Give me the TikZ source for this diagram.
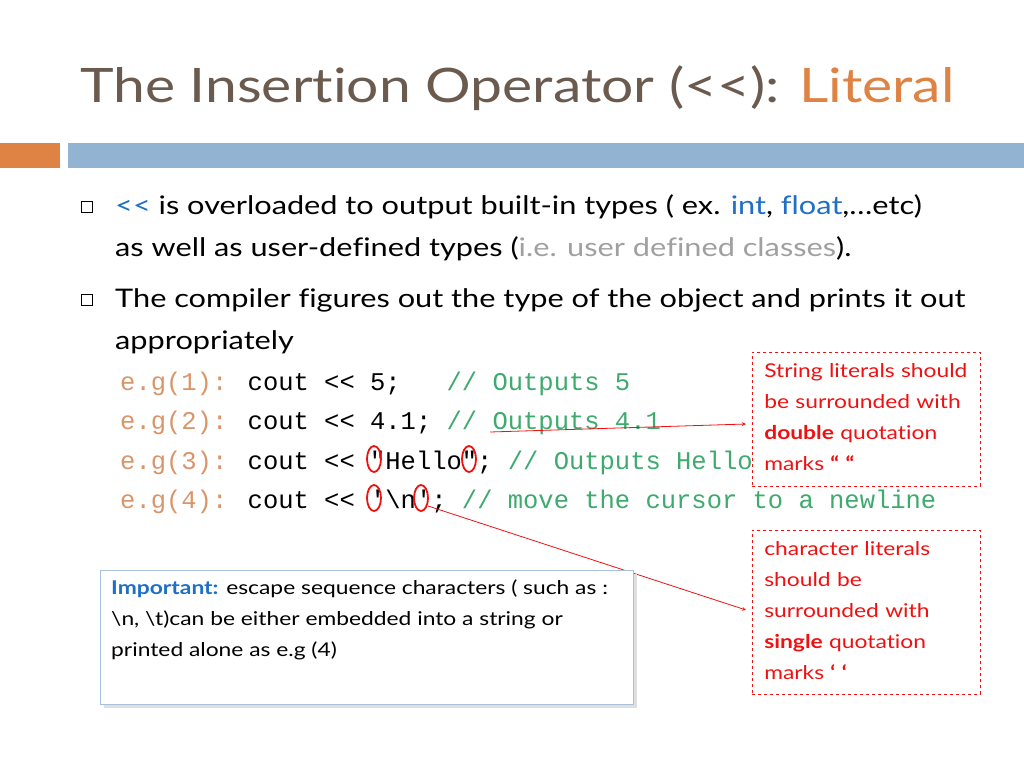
\documentclass[tikz,border=0pt]{standalone}
\usepackage{fontspec}
\setmainfont{Lato}[FakeStretch=1.2,Ligatures=CommonOff]
\newfontfamily\codefont{Liberation Mono}
\definecolor{titlec}{HTML}{6B5A4E}
\definecolor{orangec}{HTML}{DE8344}
\definecolor{bluebar}{HTML}{93B3D2}
\definecolor{blueword}{HTML}{1F6FC5}
\definecolor{grayword}{HTML}{A0A0A0}
\definecolor{codeor}{HTML}{D9956A}
\definecolor{codegr}{HTML}{3DAA6E}
\definecolor{redc}{HTML}{F01010}
\definecolor{boxblue}{HTML}{A8C0DA}
\tikzset{x=1pt,y=-1pt,
 txt/.style={anchor=base west,inner sep=0,font=\fontsize{25.6}{30}\selectfont},
 code/.style={anchor=base west,inner sep=0,font=\codefont\fontsize{25.5}{28}\selectfont},
 bul/.style={draw=black,line width=0.8pt,minimum size=11pt,inner sep=0},
 callout/.style={draw=redc,dashed,line width=0.6pt,anchor=north west,align=left,text width=228pt,inner sep=0,font=\fontsize{19}{31}\selectfont,text=redc},
 ring/.style={draw=redc,line width=1.8pt,ellipse,minimum width=14pt,minimum height=26pt,inner sep=0},
 redarrow/.style={draw=redc,line width=0.8pt,-stealth}}
\usetikzlibrary{shapes.geometric}
\begin{document}
\begin{tikzpicture}
\useasboundingbox (0,0) rectangle (1024,768);
\node[anchor=base west,inner sep=0,text=titlec,font=\fontsize{47.5}{50}\selectfont] (title) at (80,102) {The Insertion Operator (<{}<): \textcolor{orangec}{Literal}};
\fill[orangec] (0,143) rectangle (60,168);
\fill[bluebar] (68,143) rectangle (1024,168);
\node[bul] (b1) at (87,207) {};
\node[bul] (b2) at (87,300) {};
\node[txt] (l1) at (115,214) {\textcolor{blueword}{<{}<} is overloaded to output built-in types ( ex. \textcolor{blueword}{int}, \textcolor{blueword}{float},\dots etc)};
\node[txt] (l2) at (115,256) {as well as user-defined types (\textcolor{grayword}{i.e. user defined classes}).};
\node[txt] (l3) at (115,307) {The compiler figures out the type of the object and prints it out};
\node[txt] (l4) at (115,349) {appropriately};
\node[code] (c1) at (120,390) {\textcolor{codeor}{e.g(1):} cout << 5;\ \ \ \textcolor{codegr}{// Outputs 5}};
\node[code] (c2) at (120,429) {\textcolor{codeor}{e.g(2):} cout << 4.1; \textcolor{codegr}{// Outputs 4.1}};
\node[code] (c3) at (120,469) {\textcolor{codeor}{e.g(3):} cout << "Hello"; \textcolor{codegr}{// Outputs Hello}};
\node[code] (c4) at (120,508) {\textcolor{codeor}{e.g(4):} cout << '\textbackslash n'; \textcolor{codegr}{// move the cursor to a newline}};
\node[ring] (r1) at (374,459) {};
\node[ring] (r2) at (469,459) {};
\node[ring] (r3) at (374,498) {};
\node[ring] (r4) at (421,498) {};
\node[callout,minimum height=134pt] (s) at (752,352) {\hspace*{12pt}\parbox[t]{214pt}{\vspace{-4pt}String literals should\\ be surrounded with\\ \textbf{double} quotation\\ marks \textbf{“ “}}};
\node[callout,minimum height=164pt] (ch) at (752,530) {\hspace*{12pt}\parbox[t]{214pt}{\vspace{-4pt}character literals\\ should be\\ surrounded with\\ \textbf{single} quotation\\ marks \textbf{‘ ‘}}};
\coordinate (a1s) at (490,432);
\coordinate (a1e) at (746,424);
\coordinate (a2s) at (428,506);
\coordinate (a2e) at (746,610);
\draw[redarrow] (a1s) -- (a1e);
\draw[redarrow] (a2s) -- (a2e);
\fill[gray!25] (104,574) rectangle (637,708);
\node[draw=boxblue,line width=1.2pt,fill=white,anchor=north west,minimum width=533pt,minimum height=134pt,inner sep=0] (imp) at (100,570) {};
\node[anchor=north west,align=left,inner sep=0,font=\fontsize{19}{31}\selectfont] (impt) at (111,580) {\textcolor{blueword}{\textbf{Important:}} escape sequence characters ( such as :\\ \textbackslash n, \textbackslash t)can be either embedded into a string or\\ printed alone as e.g (4)};
\end{tikzpicture}
\end{document}
